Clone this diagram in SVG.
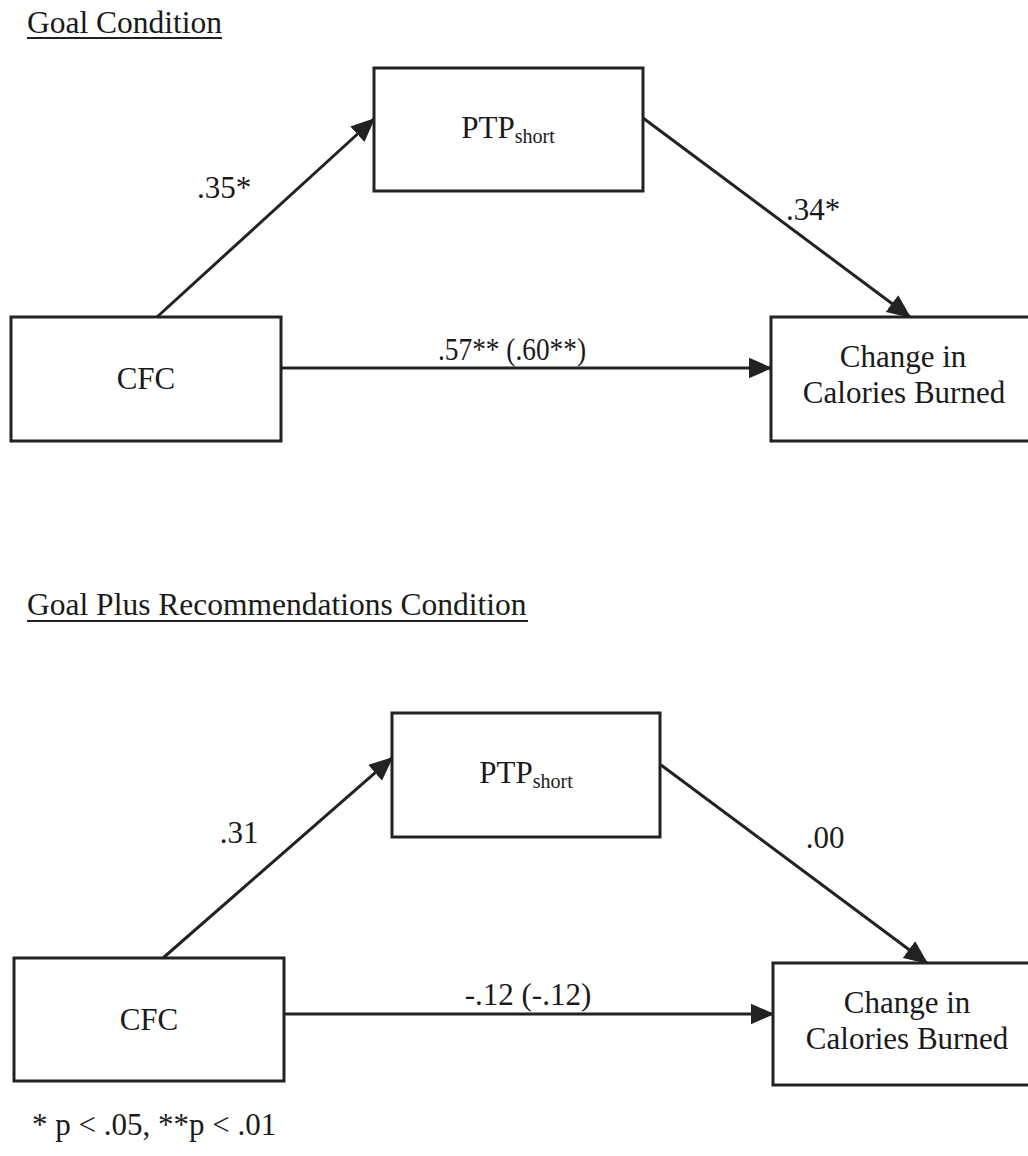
<svg xmlns="http://www.w3.org/2000/svg" width="1028" height="1156" viewBox="0 0 1028 1156">
  <style>
    .box { fill: #fff; stroke: #222; stroke-width: 3; }
    .edge { stroke: #222; stroke-width: 3; fill: none; marker-end: url(#arrow); }
    text { font-family: "Liberation Serif", "Times New Roman", serif; fill: #1a1a1a; }
    .t { font-size: 31px; }
    .title { font-size: 31.5px; }
    .ul { stroke: #222; stroke-width: 2.2; }
    .sub { font-size: 20px; }
  </style>
  <defs>
    <marker id="arrow" markerWidth="8" markerHeight="7" refX="7.5" refY="3.5" orient="auto" markerUnits="strokeWidth">
      <path d="M0,0 L8,3.5 L0,7 Z" fill="#222"/>
    </marker>
  </defs>
  <rect width="1028" height="1156" fill="#fff"/>

  <!-- Panel 1: Goal Condition -->
  <text class="title" x="27" y="33">Goal Condition</text>
  <line class="ul" x1="27" y1="38" x2="222" y2="38"/>

  <g id="edges-goal">
    <line class="edge" x1="157" y1="317" x2="374" y2="119"/>
    <line class="edge" x1="643" y1="118" x2="910" y2="317"/>
    <line class="edge" x1="281" y1="368" x2="771" y2="368"/>
    <text class="t" x="224" y="198" text-anchor="middle">.35*</text>
    <text class="t" x="813" y="220" text-anchor="middle">.34*</text>
    <text class="t" x="438" y="360" textLength="148" lengthAdjust="spacingAndGlyphs">.57** (.60**)</text>
  </g>

  <g id="ptp-goal">
    <rect class="box" x="374" y="68" width="269" height="123"/>
    <text class="t" x="508" y="138" text-anchor="middle">PTP<tspan class="sub" dy="5">short</tspan></text>
  </g>
  <g id="cfc-goal">
    <rect class="box" x="11" y="317" width="270" height="124"/>
    <text class="t" x="146" y="389" text-anchor="middle">CFC</text>
  </g>
  <g id="calories-goal">
    <rect class="box" x="771" y="317" width="270" height="124"/>
    <text class="t" x="903" y="367" text-anchor="middle">Change in</text>
    <text class="t" x="904" y="403" text-anchor="middle">Calories Burned</text>
  </g>

  <!-- Panel 2: Goal Plus Recommendations Condition -->
  <text class="title" x="27" y="615">Goal Plus Recommendations Condition</text>
  <line class="ul" x1="27" y1="621" x2="528" y2="621"/>

  <g id="edges-plus">
    <line class="edge" x1="163" y1="958" x2="392" y2="758"/>
    <line class="edge" x1="661" y1="765" x2="927" y2="963"/>
    <line class="edge" x1="284" y1="1014" x2="773" y2="1014"/>
    <text class="t" x="239" y="843" text-anchor="middle">.31</text>
    <text class="t" x="825" y="848" text-anchor="middle">.00</text>
    <text class="t" x="528" y="1005" text-anchor="middle">-.12 (-.12)</text>
  </g>

  <g id="ptp-plus">
    <rect class="box" x="392" y="713" width="268" height="124"/>
    <text class="t" x="526" y="783" text-anchor="middle">PTP<tspan class="sub" dy="5">short</tspan></text>
  </g>
  <g id="cfc-plus">
    <rect class="box" x="14" y="958" width="270" height="123"/>
    <text class="t" x="149" y="1030" text-anchor="middle">CFC</text>
  </g>
  <g id="calories-plus">
    <rect class="box" x="773" y="963" width="270" height="122"/>
    <text class="t" x="907" y="1013" text-anchor="middle">Change in</text>
    <text class="t" x="907" y="1049" text-anchor="middle">Calories Burned</text>
  </g>

  <text class="t" x="32" y="1135">* p &lt; .05, **p &lt; .01</text>
</svg>
